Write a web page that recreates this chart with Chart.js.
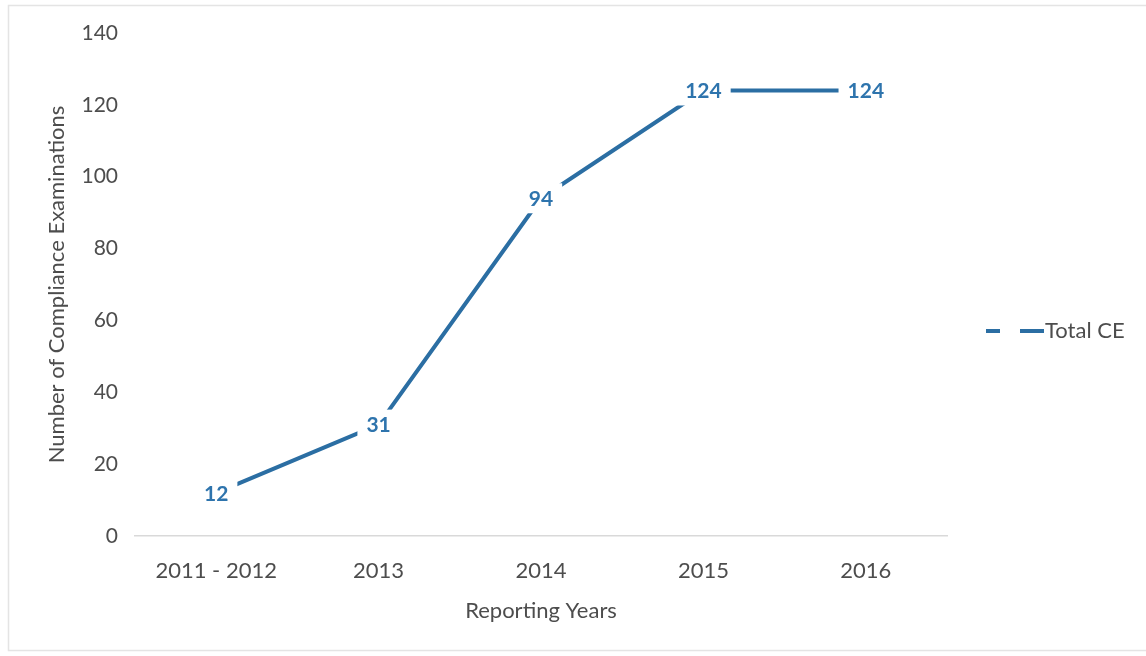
<!DOCTYPE html>
<html>
<head>
<meta charset="utf-8">
<script src="https://cdn.jsdelivr.net/npm/chart.js@4/dist/chart.umd.min.js"></script>
<style>
  html, body { margin: 0; padding: 0; background: #fff; }
  #wrap { width: 1146px; height: 656px; }
</style>
</head>
<body>
<div id="wrap"><canvas id="myChart" width="1146" height="656"></canvas></div>
<script>
const ctx = document.getElementById('myChart').getContext('2d');

const labels = ['2011 - 2012', '2013', '2014', '2015', '2016'];
const totalCE = [12, 31, 94, 124, 124];
const yTicks = [0, 20, 40, 60, 80, 100, 120, 140];

const FONT = 'Lato, "Open Sans", sans-serif';
const LINE_COLOR = '#2b6ea3';
const LABEL_COLOR = '#2e74ad';
const TEXT_COLOR = '#4d4d4d';

// value labels sitting on a white box over the line
const valueLabels = {
  id: 'valueLabels',
  afterDatasetsDraw(chart) {
    const c = chart.ctx;
    const meta = chart.getDatasetMeta(0);
    c.save();
    c.font = 'bold 21px ' + FONT;
    c.textAlign = 'center';
    c.textBaseline = 'middle';
    meta.data.forEach((pt, i) => {
      const txt = String(chart.data.datasets[0].data[i]);
      const w = c.measureText(txt).width + 18;
      c.fillStyle = '#fff';
      c.fillRect(pt.x - w / 2, pt.y - 15, w, 30);
      c.fillStyle = LABEL_COLOR;
      c.fillText(txt, pt.x, pt.y + 1);
    });
    c.restore();
  },
};

// legend on the right: broken line + series name
const sideLegend = {
  id: 'sideLegend',
  afterDraw(chart) {
    const c = chart.ctx;
    const y = 331;
    c.save();
    c.strokeStyle = LINE_COLOR;
    c.lineWidth = 4;
    c.beginPath();
    c.moveTo(986, y); c.lineTo(1000, y);
    c.moveTo(1020, y); c.lineTo(1044, y);
    c.stroke();
    c.fillStyle = TEXT_COLOR;
    c.font = '22px ' + FONT;
    c.textBaseline = 'middle';
    c.fillText(chart.data.datasets[0].label, 1045, y);
    // light frame around the chart
    c.strokeStyle = '#e4e4e4';
    c.lineWidth = 1.5;
    c.strokeRect(8.5, 5.5, 1160, 645);
    c.restore();
  },
};

const data = {
  labels,
  datasets: [
    {
      label: 'Total CE',
      data: totalCE,
      borderColor: LINE_COLOR,
      borderWidth: 4,
      pointRadius: 0,
      tension: 0,
      fill: false,
    },
  ],
};

const config = {
  type: 'line',
  data: data,
  plugins: [valueLabels, sideLegend],
  options: {
    responsive: false,
    animation: false,
    layout: { padding: { left: 44, right: 199, top: 33, bottom: 32 } },
    plugins: {
      legend: { display: false },
      tooltip: { enabled: false },
    },
    scales: {
      x: {
        offset: true,
        grid: { display: false, drawTicks: false },
        border: { display: true, color: '#d9d9d9', width: 1.5 },
        ticks: {
          color: TEXT_COLOR,
          font: { family: FONT, size: 22 },
          padding: 22,
        },
        title: {
          display: true,
          text: 'Reporting Years',
          color: TEXT_COLOR,
          font: { family: FONT, size: 22 },
          padding: 0,
        },
        afterFit: (scale) => { scale.height = 88; },
      },
      y: {
        min: 0,
        max: 140,
        grid: { display: false, drawTicks: false },
        border: { display: false },
        afterBuildTicks: (scale) => {
          scale.ticks = yTicks.map((v) => ({ value: v }));
        },
        ticks: {
          color: TEXT_COLOR,
          font: { family: FONT, size: 21 },
          padding: 17,
        },
        title: {
          display: true,
          text: 'Number of Compliance Examinations',
          color: TEXT_COLOR,
          font: { family: FONT, size: 22 },
          padding: 0,
        },
        afterFit: (scale) => { scale.width = 91; },
      },
    },
  },
};

const myChart = new Chart(ctx, config);
</script>
</body>
</html>
